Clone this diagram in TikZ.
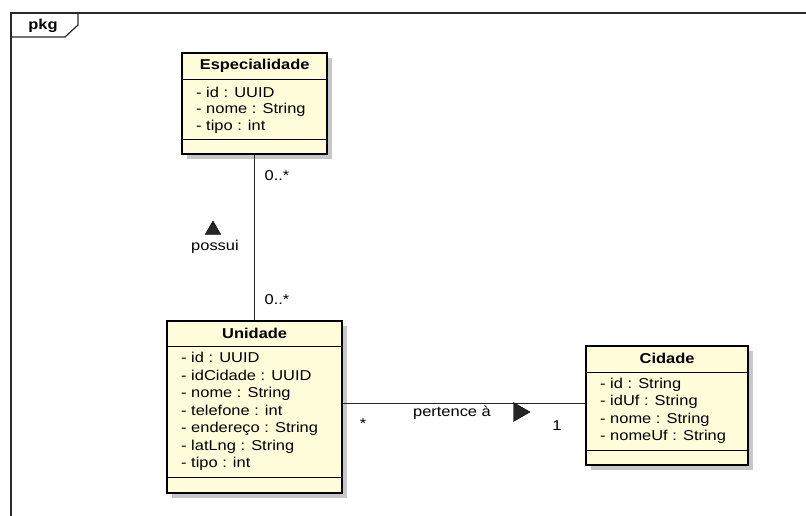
\documentclass[tikz,border=0pt]{standalone}
\usepackage{fontspec}
\setmainfont{Liberation Sans}[FakeStretch=1.15]
\usetikzlibrary{shadows,shapes.geometric}
\definecolor{classfill}{RGB}{255,252,218}
\definecolor{framecol}{RGB}{40,40,40}
\newcommand{\diagfont}{\fontsize{14.3}{17}\selectfont}
\tikzset{
  classbox/.style={draw, line width=2.3pt, fill=classfill, anchor=north west, inner sep=0,
    drop shadow={shadow xshift=5pt, shadow yshift=-5pt, fill=black!22, opacity=1}},
  sepline/.style={line width=0.9pt},
  title/.style={font=\diagfont\bfseries, inner sep=0},
  attr/.style={anchor=west, inner sep=0, text height=10pt, text depth=3pt},
  lbl/.style={inner sep=0},
  navtri/.style={regular polygon, regular polygon sides=3, fill=black!85, draw=black,
    line width=0.4pt, inner sep=0, minimum size=18pt},
}
\begin{document}
\begin{tikzpicture}[x=1pt,y=-1pt,font=\diagfont]
\useasboundingbox (0,0) rectangle (806,516);
% package frame
\draw[framecol, line width=1.2pt] (11,516) -- (11,13) -- (806,13);
\draw[framecol, line width=1.2pt] (11,37) -- (65,37) -- (78,25) -- (78,13);
\node[title] (pkg) at (43,26) {pkg};

% Especialidade
\node[classbox, minimum width=145pt, minimum height=101pt] (esp) at (181,52) {};
\draw[sepline] (esp.west |- 0,79) -- (esp.east |- 0,79);
\draw[sepline] (esp.west |- 0,139) -- (esp.east |- 0,139);
\node[title] (espT) at (esp.north |- 0,66) {Especialidade};
\foreach \t [count=\i] in {- id : UUID, - nome : String, - tipo : int}
  \node[attr] (esp-\i) at (196,{94+16.5*(\i-1)}) {\t};

% Unidade
\node[classbox, minimum width=175pt, minimum height=172pt] (uni) at (166,320) {};
\draw[sepline] (uni.west |- 0,346) -- (uni.east |- 0,346);
\draw[sepline] (uni.west |- 0,477) -- (uni.east |- 0,477);
\node[title] (uniT) at (uni.north |- 0,333) {Unidade};
\foreach \t [count=\i] in {- id : UUID, - idCidade : UUID, - nome : String,
    - telefone : int, - endereço : String, - latLng : String, - tipo : int}
  \node[attr] (uni-\i) at (181,{359+17.5*(\i-1)}) {\t};

% Cidade
\node[classbox, minimum width=162pt, minimum height=119pt] (cid) at (585,345) {};
\draw[sepline] (cid.west |- 0,372) -- (cid.east |- 0,372);
\draw[sepline] (cid.west |- 0,450) -- (cid.east |- 0,450);
\node[title] (cidT) at (cid.north |- 0,358) {Cidade};
\foreach \t [count=\i] in {- id : String, - idUf : String, - nome : String, - nomeUf : String}
  \node[attr] (cid-\i) at (600,{385+17.3*(\i-1)}) {\t};

% associations
\draw[line width=1pt, black!85] (esp.south) -- (uni.north);
\draw[line width=1pt, black!85] (uni.east |- 0,403) -- (cid.west |- 0,403);

\node[lbl] (espM) at (277,176) {0..*};
\node[lbl] (uniM) at (277,300) {0..*};
\node[navtri] (possuiT) at (213,230) {};
\node[lbl] (possui) at (215,247) {possui};

\node[lbl] (uniC) at (363,424) {*};
\node[lbl] (pertence) at (452,413) {pertence à};
\node[navtri, minimum size=22pt, shape border rotate=-90] (pertenceT) at (519,412) {};
\node[lbl] (cidC) at (557,426) {1};
\end{tikzpicture}
\end{document}
